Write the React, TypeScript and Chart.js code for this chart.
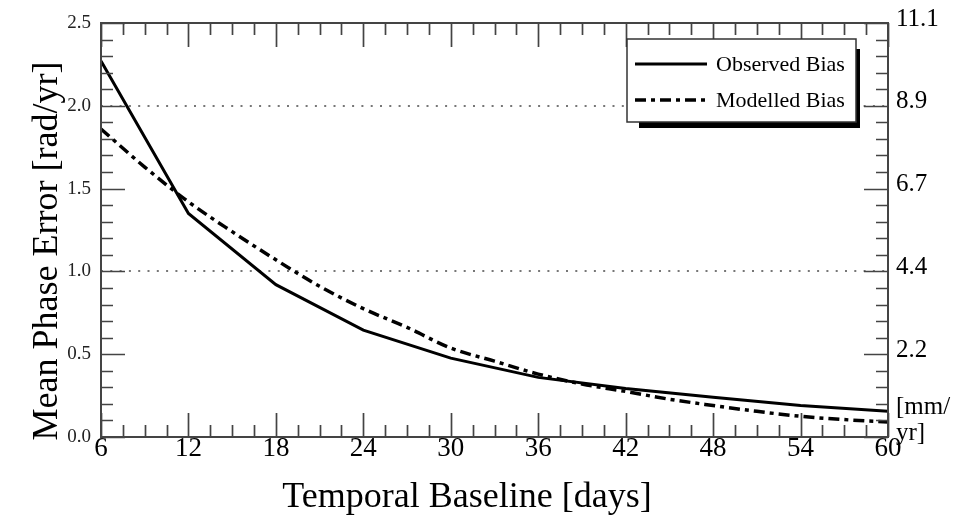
import React, { useEffect, useRef } from "react";
import { Chart, registerables } from "chart.js";

Chart.register(...registerables);

const FONT = '"Liberation Serif", "Times New Roman", serif';

// ---- data ----
const observedDays = [6, 12, 18, 24, 30, 36, 42, 48, 54, 60];
const observedBias = [2.27, 1.35, 0.92, 0.645, 0.476, 0.36, 0.293, 0.24, 0.19, 0.155];

const modelledDays = [6, 9, 12, 15, 18, 21, 24, 27, 30, 33, 36, 39, 42, 45, 48, 51, 54, 57, 60];
const modelledBias = [
  1.86, 1.63, 1.42, 1.24, 1.07, 0.91, 0.775, 0.662, 0.537, 0.458, 0.38, 0.32, 0.275, 0.228,
  0.19, 0.155, 0.125, 0.105, 0.09,
];

const seriesLabels = ["Observed Bias", "Modelled Bias"];
const rightTickLabels = ["", "2.2", "4.4", "6.7", "8.9", "11.1"];
const rightUnitLines = ["[mm/", "yr]"];
const gridValues = [1.0, 2.0];
const xTitle = "Temporal Baseline [days]";
const yTitle = "Mean Phase Error [rad/yr]";

const X_MIN = 6;
const X_MAX = 60;
const X_MAJOR = 6;
const X_MINOR = 1.5;
const Y_MIN = 0;
const Y_MAX = 2.5;
const Y_MAJOR = 0.5;
const Y_MINOR = 0.1;

const decorPlugin = {
  id: "decor",
  beforeDatasetsDraw(chart: any) {
    const { ctx, chartArea: a, scales } = chart;
    const ys = scales.y;
    ctx.save();
    ctx.strokeStyle = "#777";
    ctx.lineWidth = 2;
    ctx.setLineDash([2, 7.3]);
    for (const v of gridValues) {
      const py = Math.round(ys.getPixelForValue(v));
      ctx.beginPath();
      ctx.moveTo(a.left, py);
      ctx.lineTo(a.right, py);
      ctx.stroke();
    }
    ctx.restore();
  },
  afterDatasetsDraw(chart: any) {
    const { ctx, chartArea: a, scales } = chart;
    const xs = scales.x;
    const ys = scales.y;
    ctx.save();
    ctx.strokeStyle = "#444";
    ctx.lineWidth = 1.7;
    const MAJ = 24;
    const MIN = 12;
    // x ticks (bottom & top, inward)
    const nx = Math.round((X_MAX - X_MIN) / X_MINOR);
    const perX = Math.round(X_MAJOR / X_MINOR);
    for (let i = 0; i <= nx; i++) {
      const v = X_MIN + i * X_MINOR;
      const px = Math.round(xs.getPixelForValue(v)) + 0.5;
      const len = i % perX === 0 ? MAJ : MIN;
      ctx.beginPath();
      ctx.moveTo(px, a.bottom);
      ctx.lineTo(px, a.bottom - len);
      ctx.moveTo(px, a.top);
      ctx.lineTo(px, a.top + len);
      ctx.stroke();
    }
    // y ticks (left & right, inward)
    const ny = Math.round((Y_MAX - Y_MIN) / Y_MINOR);
    const perY = Math.round(Y_MAJOR / Y_MINOR);
    for (let i = 0; i <= ny; i++) {
      const v = Y_MIN + i * Y_MINOR;
      const py = Math.round(ys.getPixelForValue(v)) + 0.5;
      const len = i % perY === 0 ? MAJ : MIN;
      ctx.beginPath();
      ctx.moveTo(a.left, py);
      ctx.lineTo(a.left + len, py);
      ctx.moveTo(a.right, py);
      ctx.lineTo(a.right - len, py);
      ctx.stroke();
    }
    // frame
    ctx.lineWidth = 2;
    ctx.strokeStyle = "#444";
    ctx.strokeRect(a.left, a.top, a.right - a.left, a.bottom - a.top);

    // legend
    const lx = 627, ly = 39, lw = 229, lh = 83;
    ctx.fillStyle = "#000";
    ctx.fillRect(lx + 12, ly + 10, lw - 8, lh - 4);
    ctx.fillStyle = "#fff";
    ctx.fillRect(lx, ly, lw, lh);
    ctx.strokeStyle = "#333";
    ctx.lineWidth = 1.5;
    ctx.strokeRect(lx, ly, lw, lh);
    const rows = [ly + 25, ly + 61];
    chart.data.datasets.forEach((ds: any, i: number) => {
      const ry = rows[i];
      ctx.strokeStyle = ds.borderColor;
      ctx.lineWidth = ds.borderWidth;
      ctx.setLineDash(ds.borderDash || []);
      ctx.beginPath();
      ctx.moveTo(lx + 8, ry);
      ctx.lineTo(lx + 80, ry);
      ctx.stroke();
      ctx.setLineDash([]);
      ctx.fillStyle = "#000";
      ctx.font = `22px ${FONT}`;
      ctx.textAlign = "left";
      ctx.textBaseline = "middle";
      ctx.fillText(ds.label, lx + 89, ry + 1);
    });

    // right-axis unit
    ctx.fillStyle = "#000";
    ctx.font = `25px ${FONT}`;
    ctx.textAlign = "left";
    ctx.textBaseline = "middle";
    ctx.fillText(rightUnitLines[0], a.right + 8, a.bottom - 30);
    ctx.fillText(rightUnitLines[1], a.right + 8, a.bottom - 4);

    // axis titles
    ctx.font = `36px ${FONT}`;
    ctx.textBaseline = "alphabetic";
    ctx.textAlign = "center";
    ctx.fillText(xTitle, 467, 507);
    ctx.save();
    ctx.translate(57, 251);
    ctx.rotate(-Math.PI / 2);
    ctx.fillText(yTitle, 0, 0);
    ctx.restore();

    ctx.restore();
  },
};

export default function App() {
  const ref = useRef<HTMLCanvasElement | null>(null);

  useEffect(() => {
    if (!ref.current) return;
    const chart = new Chart(ref.current, {
      type: "line",
      data: {
        datasets: [
          {
            label: seriesLabels[0],
            data: observedDays.map((d, i) => ({ x: d, y: observedBias[i] })),
            borderColor: "#000",
            borderWidth: 3,
            pointRadius: 0,
            tension: 0,
            borderDash: [],
          },
          {
            label: seriesLabels[1],
            data: modelledDays.map((d, i) => ({ x: d, y: modelledBias[i] })),
            borderColor: "#000",
            borderWidth: 3.5,
            pointRadius: 0,
            cubicInterpolationMode: "monotone",
            borderDash: [11, 5, 4, 5],
          },
        ],
      },
      options: {
        animation: false,
        responsive: false,
        devicePixelRatio: 1,
        layout: { padding: { top: 17, left: 0, right: 0, bottom: 0 } },
        plugins: { legend: { display: false }, tooltip: { enabled: false } },
        scales: {
          x: {
            type: "linear",
            min: X_MIN,
            max: X_MAX,
            grid: { display: false, drawTicks: false },
            border: { display: false },
            ticks: {
              stepSize: X_MAJOR,
              autoSkip: false,
              maxRotation: 0,
              color: "#000",
              padding: -2,
              font: { family: FONT, size: 27, lineHeight: 1 },
            },
            afterFit: (s: any) => {
              s.height = 82;
            },
          },
          y: {
            type: "linear",
            position: "left",
            min: Y_MIN,
            max: Y_MAX,
            grid: { display: false, drawTicks: false },
            border: { display: false },
            ticks: {
              stepSize: Y_MAJOR,
              color: "#222",
              padding: 10,
              font: { family: FONT, size: 19 },
              callback: (v: any) => Number(v).toFixed(1),
            },
            afterFit: (s: any) => {
              s.width = 101;
            },
          },
          y1: {
            type: "linear",
            position: "right",
            min: Y_MIN,
            max: Y_MAX,
            grid: { display: false, drawTicks: false },
            border: { display: false },
            ticks: {
              stepSize: Y_MAJOR,
              color: "#000",
              padding: 8,
              labelOffset: -4,
              font: { family: FONT, size: 25 },
              callback: (_v: any, i: number) => rightTickLabels[i],
            },
            afterFit: (s: any) => {
              s.width = 72;
            },
          },
        },
      },
      plugins: [decorPlugin],
    });
    return () => chart.destroy();
  }, []);

  return (
    <div style={{ position: "absolute", left: 0, top: 0, width: 960, height: 519, background: "#fff" }}>
      <canvas ref={ref} width={960} height={519} />
    </div>
  );
}
